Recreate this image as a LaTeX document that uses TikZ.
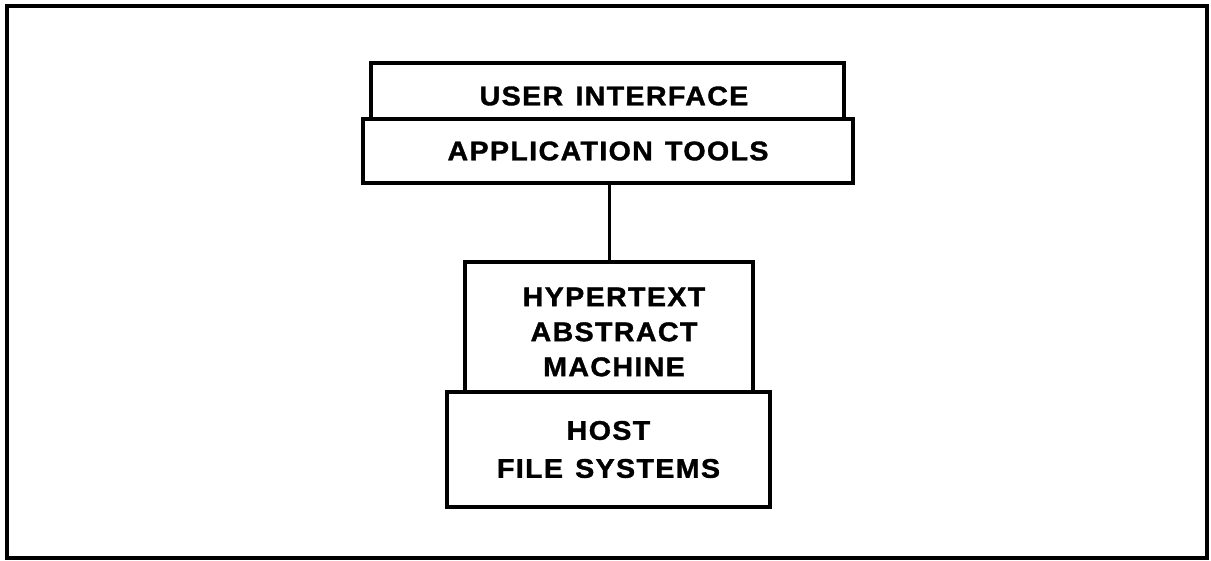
\documentclass[tikz,border=0pt]{standalone}
\usepackage{fontspec}
\setmainfont{Liberation Sans}[LetterSpace=5, FakeStretch=1.06, BoldFeatures={FakeBold=1.3}]
\begin{document}
\begin{tikzpicture}[x=1pt,y=-1pt,
  layer/.style={draw=black, line width=3.2pt, inner sep=0pt, align=center,
    font=\bfseries\fontsize{27}{36}\selectfont},
  link/.style={draw=black, line width=3pt}]
\useasboundingbox (0,0) rectangle (1211,561);
\draw[line width=3.5pt] (7,6) rectangle (1207,558);
\node[layer, minimum width=473pt, minimum height=56pt] (ui) at (607.5,91) {};
\node[font=\bfseries\fontsize{27}{36}\selectfont] (uit) at (614,96) {USER\hspace{0.45em}INTERFACE};
\node[layer, minimum width=490pt, minimum height=64pt] (app) at (608,151) {APPLICATION\hspace{0.45em}TOOLS};
\node[layer, minimum width=288pt, minimum height=130pt] (ham) at (609,327) {};
\node[align=center, font=\bfseries\fontsize{27}{35}\selectfont] (hamt) at (614,332) {HYPERTEXT\\ABSTRACT\\MACHINE};
\node[layer, minimum width=323pt, minimum height=115pt, font=\bfseries\fontsize{27}{38}\selectfont] (hfs) at (608.5,449.5) {HOST\\FILE\hspace{0.45em}SYSTEMS};
\draw[link] (app.south -| 609,0) -- (ham.north -| 609,0);
\end{tikzpicture}
\end{document}
